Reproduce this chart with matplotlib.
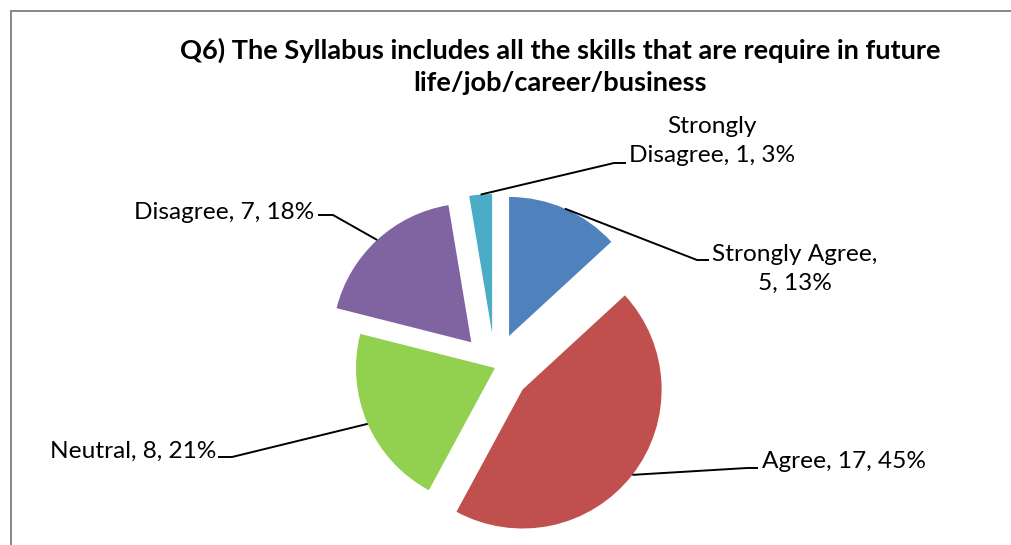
import numpy as np
import matplotlib
matplotlib.use("Agg")
from matplotlib import pyplot as plt
from matplotlib.patches import Rectangle

# data
categories = ["Strongly Agree", "Agree", "Neutral", "Disagree", "Strongly Disagree"]
counts = [5, 17, 8, 7, 1]
percents = ["13%", "45%", "21%", "18%", "3%"]
colors = ["#4F81BD", "#C0504D", "#92D050", "#8064A2", "#4BACC6"]
explode_px = [35, 35, 0, 35, 35]

label_texts = ["Strongly Agree,\n5, 13%", "Agree, 17, 45%", "Neutral, 8, 21%",
               "Disagree, 7, 18%", "Strongly\nDisagree, 1, 3%"]

W, H = 1012, 545
plt.rcParams['font.family'] = ['Lato', 'DejaVu Sans']

fig = plt.figure(figsize=(W / 100, H / 100), dpi=100)
ax = fig.add_axes([0, 0, 1, 1])

wedges, _ = ax.pie(counts, colors=colors, explode=explode_px, startangle=90,
                   counterclock=False, radius=139, center=(495, H - 368),
                   wedgeprops=dict(linewidth=0))
ax.set_xlim(0, W)
ax.set_ylim(0, H)
ax.set_aspect('equal')
ax.axis('off')

# chart border (runs off the right and bottom edge like the source)
ax.add_patch(Rectangle((11, -20), W + 40, H - 11 + 20, fill=False,
                       edgecolor='#878787', linewidth=1.4))

ax.text(560, H - 50, "Q6) The Syllabus includes all the skills that are require in future",
        ha='center', va='center', fontsize=19.6, fontweight='bold')
ax.text(560, H - 83, "life/job/career/business",
        ha='center', va='center', fontsize=19.6, fontweight='bold')

# label placement: (text x, text y, ha, elbow x, elbow y, tail end x)
label_pos = [
    (712, 269, 'left', 697, 260, 709),
    (762, 462, 'left', 747, 468, 758),
    (216, 451, 'right', 232, 457, 218),
    (314, 212, 'right', 333, 215, 318),
    (629, 141, 'left', 614, 163, 626),
]

for w, txt, (tx, ty, ha, ex, ey, tail) in zip(wedges, label_texts, label_pos):
    mid = np.deg2rad((w.theta1 + w.theta2) / 2)
    cx, cy = w.center
    ax_ = cx + w.r * np.cos(mid)
    ay_ = cy + w.r * np.sin(mid)
    ax.plot([ax_, ex, tail], [ay_, H - ey, H - ey], color='black', lw=1.4,
            solid_capstyle='butt')
    ax.text(tx, H - ty, txt, ha=ha, va='center', multialignment='center',
            fontsize=17.6, linespacing=1.45)

fig.savefig("out.png", dpi=100, facecolor='white')
